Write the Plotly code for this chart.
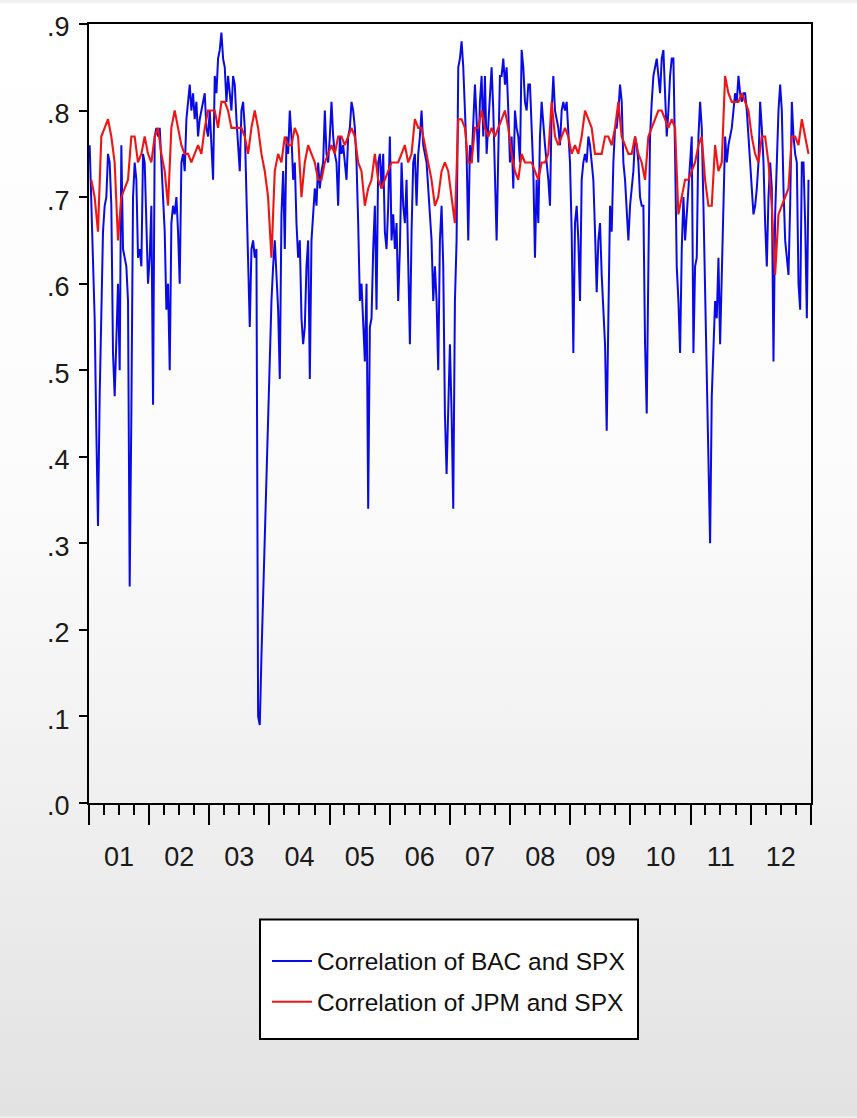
import base64
import pandas as pd
import plotly.graph_objects as go

# Rolling correlation of BAC with SPX (approx. every 10 days)
bac_corr = [
    0.76, 0.70, 0.62, 0.56, 0.43, 0.32, 0.47, 0.55, 0.66, 0.69, 0.70, 0.75, 0.74, 0.69, 0.52, 0.47,
    0.55, 0.60, 0.50, 0.76, 0.64, 0.63, 0.62, 0.58, 0.25, 0.45, 0.70, 0.74, 0.72, 0.63, 0.64, 0.62,
    0.75, 0.74, 0.66, 0.60, 0.63, 0.69, 0.46, 0.77, 0.78, 0.77, 0.78, 0.74, 0.70, 0.66, 0.57, 0.60,
    0.50, 0.67, 0.69, 0.68, 0.70, 0.66, 0.60, 0.74, 0.75, 0.73, 0.79, 0.81, 0.83, 0.80, 0.82, 0.79,
    0.81, 0.77, 0.79, 0.80, 0.81, 0.82, 0.78, 0.77, 0.80, 0.76, 0.72, 0.84, 0.82, 0.86, 0.87, 0.89,
    0.86, 0.85, 0.81, 0.84, 0.82, 0.80, 0.84,
    0.83, 0.79, 0.76, 0.73, 0.80, 0.81, 0.78, 0.69, 0.64, 0.55, 0.64, 0.65, 0.63, 0.64, 0.10, 0.09,
    0.17, 0.24, 0.33, 0.38, 0.47, 0.51, 0.58, 0.62, 0.65, 0.61, 0.57, 0.49, 0.68, 0.73, 0.64, 0.77,
    0.75, 0.80, 0.77, 0.72, 0.74, 0.67, 0.63, 0.65, 0.56, 0.53, 0.55, 0.62, 0.65, 0.49, 0.65, 0.68,
    0.71, 0.69, 0.74, 0.71, 0.73, 0.74, 0.80, 0.75, 0.74, 0.77, 0.81, 0.77, 0.75, 0.74, 0.69, 0.77,
    0.75, 0.76, 0.74, 0.72, 0.77, 0.78, 0.81, 0.80, 0.78, 0.74, 0.67, 0.58, 0.60, 0.56, 0.51, 0.60,
    0.34, 0.55, 0.56, 0.64, 0.69, 0.57,
    0.74, 0.75, 0.71, 0.75, 0.66, 0.64, 0.69, 0.77, 0.65, 0.68, 0.64, 0.67, 0.58, 0.64, 0.74, 0.69,
    0.67, 0.72, 0.63, 0.53, 0.66, 0.74, 0.75, 0.69, 0.75, 0.77, 0.80, 0.76, 0.75, 0.74, 0.71, 0.68,
    0.65, 0.58, 0.62, 0.58, 0.50, 0.65, 0.69, 0.62, 0.45, 0.38, 0.46, 0.53, 0.45, 0.34, 0.58, 0.65,
    0.85, 0.86, 0.88, 0.85, 0.80, 0.75, 0.65, 0.76, 0.74, 0.78, 0.83, 0.79, 0.74, 0.81, 0.84, 0.77,
    0.84, 0.75, 0.78, 0.81, 0.85, 0.80, 0.72, 0.65, 0.75, 0.84, 0.84, 0.86, 0.83, 0.85, 0.80, 0.74,
    0.77, 0.71, 0.80, 0.78, 0.77, 0.74,
    0.87, 0.85, 0.81, 0.80, 0.83, 0.83, 0.78, 0.73, 0.63, 0.72, 0.67, 0.77, 0.81, 0.78, 0.76, 0.74,
    0.72, 0.69, 0.80, 0.84, 0.80, 0.79, 0.78, 0.76, 0.80, 0.81, 0.80, 0.81, 0.77, 0.74, 0.66, 0.52,
    0.67, 0.69, 0.65, 0.58, 0.72, 0.74, 0.75, 0.74, 0.77, 0.76, 0.74, 0.72, 0.66, 0.59, 0.65, 0.67,
    0.61, 0.57, 0.53, 0.43, 0.58, 0.69, 0.66, 0.74, 0.78, 0.78, 0.80, 0.83, 0.81, 0.74, 0.72, 0.68,
    0.65, 0.69, 0.71, 0.73, 0.77, 0.76, 0.74, 0.70, 0.69, 0.69, 0.53, 0.45, 0.62, 0.77, 0.81, 0.84,
    0.85, 0.86, 0.84, 0.82, 0.86, 0.87,
    0.82, 0.77, 0.80, 0.84, 0.86, 0.86, 0.75, 0.62, 0.58, 0.52, 0.64, 0.70, 0.65, 0.68, 0.71, 0.74,
    0.77, 0.52, 0.62, 0.63, 0.77, 0.81, 0.78, 0.69, 0.58, 0.47, 0.37, 0.30, 0.47, 0.53, 0.58, 0.56,
    0.63, 0.53, 0.62, 0.67, 0.77, 0.74, 0.76, 0.77, 0.78, 0.80, 0.82, 0.81, 0.84, 0.82, 0.81, 0.82,
    0.82, 0.80, 0.77, 0.75, 0.71, 0.68, 0.69, 0.71, 0.74, 0.81, 0.78, 0.74, 0.67, 0.62, 0.70, 0.74,
    0.71, 0.51, 0.68, 0.74, 0.80, 0.83, 0.80, 0.71, 0.65, 0.63, 0.61, 0.69, 0.81, 0.77, 0.75, 0.74,
    0.60, 0.57, 0.74, 0.74, 0.67, 0.56, 0.72,
]

# Rolling correlation of JPM with SPX (approx. every 20 days)
jpm_corr = [
    0.72, 0.70, 0.66, 0.77, 0.78, 0.79, 0.77, 0.74, 0.65, 0.70, 0.71, 0.72, 0.77, 0.77, 0.74, 0.75,
    0.77, 0.75, 0.74, 0.77, 0.78, 0.75, 0.73, 0.69, 0.78, 0.80, 0.78, 0.76, 0.75, 0.75, 0.74, 0.75,
    0.76, 0.75, 0.78, 0.80, 0.80, 0.80, 0.78, 0.81, 0.81, 0.80, 0.78,
    0.78, 0.78, 0.78, 0.77, 0.75, 0.78, 0.80, 0.78, 0.75, 0.73, 0.70, 0.63, 0.73, 0.75, 0.74, 0.77,
    0.76, 0.76, 0.78, 0.77, 0.70, 0.74, 0.76, 0.75, 0.74, 0.72, 0.72, 0.74, 0.75, 0.76, 0.75, 0.77,
    0.77, 0.76, 0.77, 0.78, 0.77, 0.74, 0.73, 0.69, 0.71, 0.72, 0.75,
    0.72, 0.71, 0.72, 0.73, 0.74, 0.74, 0.74, 0.75, 0.76, 0.74, 0.75, 0.79, 0.78, 0.78, 0.76, 0.74,
    0.72, 0.69, 0.70, 0.73, 0.74, 0.73, 0.70, 0.67, 0.79, 0.79, 0.78, 0.74, 0.74, 0.78, 0.78, 0.80,
    0.78, 0.77, 0.78, 0.77, 0.78, 0.79, 0.80, 0.78, 0.75, 0.73, 0.72,
    0.75, 0.74, 0.74, 0.74, 0.73, 0.72, 0.74, 0.74, 0.75, 0.81, 0.77, 0.76, 0.77, 0.78, 0.77, 0.75,
    0.76, 0.75, 0.77, 0.80, 0.79, 0.78, 0.75, 0.75, 0.75, 0.77, 0.77, 0.76, 0.78, 0.81, 0.77, 0.76,
    0.75, 0.75, 0.77, 0.75, 0.74, 0.72, 0.77, 0.78, 0.79, 0.80, 0.80,
    0.79, 0.78, 0.79, 0.78, 0.68, 0.70, 0.72, 0.72, 0.73, 0.74, 0.76, 0.77, 0.72, 0.69, 0.69, 0.76,
    0.73, 0.74, 0.84, 0.82, 0.81, 0.81, 0.81, 0.82, 0.81, 0.80, 0.77, 0.75, 0.74, 0.77, 0.77, 0.74,
    0.69, 0.61, 0.68, 0.69, 0.70, 0.71, 0.77, 0.77, 0.76, 0.79, 0.77, 0.75,
]

series_names = ["Correlation of BAC and SPX", "Correlation of JPM and SPX"]
y_tick_vals = [0.0, 0.1, 0.2, 0.3, 0.4, 0.5, 0.6, 0.7, 0.8, 0.9]
y_tick_text = [".0", ".1", ".2", ".3", ".4", ".5", ".6", ".7", ".8", ".9"]

bac_dates = pd.date_range("2001-01-05", periods=len(bac_corr), freq="243h")
jpm_dates = pd.date_range("2001-01-15", periods=len(jpm_corr), freq="486h")

FONT = "Liberation Sans Narrow, Arial Narrow, Liberation Sans, Arial, sans-serif"

W, H = 857, 1118
L, R, T, B = 89, 46, 21, 315
pw, ph = W - L - R, H - T - B


def px_x(px):
    return (px - L) / pw


def px_y(py):
    return (H - B - py) / ph


svg = ('<svg xmlns="http://www.w3.org/2000/svg" width="10" height="100" viewBox="0 0 10 100" '
       'preserveAspectRatio="none"><defs><linearGradient id="g" x1="0" y1="0" x2="0" y2="1">'
       '<stop offset="0" stop-color="#ffffff"/><stop offset="0.45" stop-color="#fbfbfb"/>'
       '<stop offset="0.75" stop-color="#eeeeee"/><stop offset="1" stop-color="#e2e2e2"/>'
       '</linearGradient></defs><rect width="10" height="100" fill="url(#g)"/></svg>')
bg_src = "data:image/svg+xml;base64," + base64.b64encode(svg.encode()).decode()

fig = go.Figure()
fig.add_trace(go.Scatter(x=bac_dates, y=bac_corr, mode="lines", name=series_names[0],
                         legendgroup="a", line=dict(color="#0a0ae6", width=2.0)))
fig.add_trace(go.Scatter(x=jpm_dates, y=jpm_corr, mode="lines", name=series_names[1],
                         legendgroup="b", line=dict(color="#f01414", width=2.1)))

fig.update_layout(
    width=W, height=H,
    margin=dict(l=L, r=R, t=T, b=B),
    paper_bgcolor="#f0f0f0",
    plot_bgcolor="#ffffff",
    font=dict(family=FONT, color="#1a1a1a", size=26),
    images=[dict(source=bg_src, xref="paper", yref="paper",
                 x=-L / pw, y=1 + T / ph, sizex=W / pw, sizey=H / ph,
                 xanchor="left", yanchor="top", sizing="stretch", layer="below")],
    shapes=[dict(type="rect", xref="paper", yref="paper",
                 x0=px_x(260), x1=px_x(638), y0=px_y(1040), y1=px_y(920),
                 line=dict(color="#000000", width=2), fillcolor="#ffffff", layer="above")],
    showlegend=True,
    legend=dict(x=px_x(267), y=px_y(939), xanchor="left", yanchor="top",
                bgcolor="rgba(0,0,0,0)", borderwidth=0,
                font=dict(family=FONT, size=24.5, color="#111111"),
                itemwidth=40, tracegroupgap=6),
    xaxis=dict(
        type="date", range=["2001-01-01", "2013-01-01"],
        tick0="2001-01-01", dtick="M12", tickformat="%y", ticklabelmode="period",
        ticks="outside", ticklen=20, tickwidth=2, tickcolor="#000000",
        minor=dict(dtick="M3", tick0="2001-01-01", ticks="outside", ticklen=10,
                   tickwidth=1.5, tickcolor="#000000", showgrid=False),
        showline=True, linewidth=2, linecolor="#000000", mirror=True,
        showgrid=False, zeroline=False, ticklabelstandoff=9,
        tickfont=dict(family=FONT, size=27, color="#1a1a1a"),
    ),
    yaxis=dict(
        range=[0, 0.9], tickvals=y_tick_vals, ticktext=y_tick_text,
        ticks="outside", ticklen=8, tickwidth=2, tickcolor="#000000",
        showline=True, linewidth=2, linecolor="#000000", mirror=True,
        showgrid=False, zeroline=False, ticklabelshift=3, ticklabelstandoff=4,
        tickfont=dict(family=FONT, size=27, color="#1a1a1a"),
    ),
)

fig.write_html("out.html", config={"displayModeBar": False},
               post_script="document.body.style.margin='0';document.body.style.overflow='hidden';")
